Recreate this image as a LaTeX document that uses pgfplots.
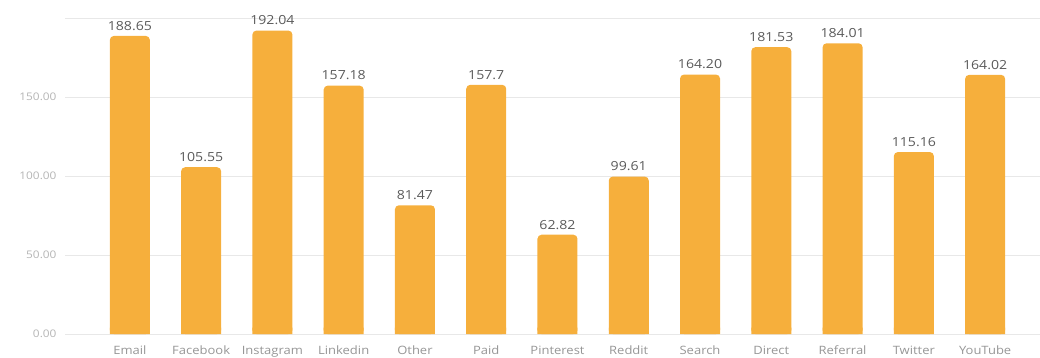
\documentclass[border=0pt]{standalone}
\usepackage{pgfplots}
\pgfplotsset{compat=1.18}
\usepackage{pgfplotstable}
\usepackage{fontspec}
\setmainfont{Open Sans}
\newfontfamily\widesans[FakeStretch=1.13]{Open Sans}

\definecolor{barorange}{RGB}{246,175,60}
\definecolor{gridgray}{RGB}{232,232,232}
\definecolor{ticktext}{RGB}{180,180,180}
\definecolor{cattext}{RGB}{150,150,150}
\definecolor{valtext}{RGB}{90,90,90}

\pgfplotstableread[col sep=comma]{
idx,v,lab
0,188.65,188.65
1,105.55,105.55
2,192.04,192.04
3,157.18,157.18
4,81.47,81.47
5,157.7,157.7
6,62.82,62.82
7,99.61,99.61
8,164.20,164.20
9,181.53,181.53
10,184.01,184.01
11,115.16,115.16
12,164.02,164.02
}\sessions

\begin{document}
\begin{tikzpicture}
\useasboundingbox (0,0) rectangle (1040bp,358bp);
\begin{axis}[
  at={(65bp,24bp)}, anchor=south west,
  scale only axis,
  width=975bp, height=316bp,
  xmin=-0.91, xmax=12.77,
  ymin=0, ymax=200,
  axis line style={draw=none},
  tick style={draw=none},
  ytick={0,50,100,150,200},
  yticklabels={0.00,50.00,100.00,150.00,},
  ymajorgrids,
  grid style={gridgray, line width=0.8bp},
  xtick={0,...,12},
  xticklabels={Email,Facebook,Instagram,Linkedin,Other,Paid,Pinterest,Reddit,Search,Direct,Referral,Twitter,YouTube},
  yticklabel style={font=\widesans\fontsize{10.5bp}{12bp}\selectfont, text=ticktext, xshift=-5bp},
  xticklabel style={font=\widesans\fontsize{11.5bp}{13bp}\selectfont, text=cattext,
    anchor=base, yshift=-16bp},
  /pgf/number format/assume math mode=true,
  ybar, bar width=40bp, bar shift=0pt,
]
% bars with rounded tops and their value labels
\addplot[fill=barorange, draw=none, rounded corners=4bp,
  nodes near coords,
  point meta=explicit symbolic,
  every node near coord/.append style={font=\widesans\fontsize{12.5bp}{14bp}\selectfont, text=valtext, anchor=south, yshift=2bp}]
  table[x=idx, y=v, meta=lab] {\sessions};
% square base so only the tops are rounded
\addplot[fill=barorange, draw=none]
  table[x=idx, y expr=4] {\sessions};
\end{axis}
\end{tikzpicture}
\end{document}
